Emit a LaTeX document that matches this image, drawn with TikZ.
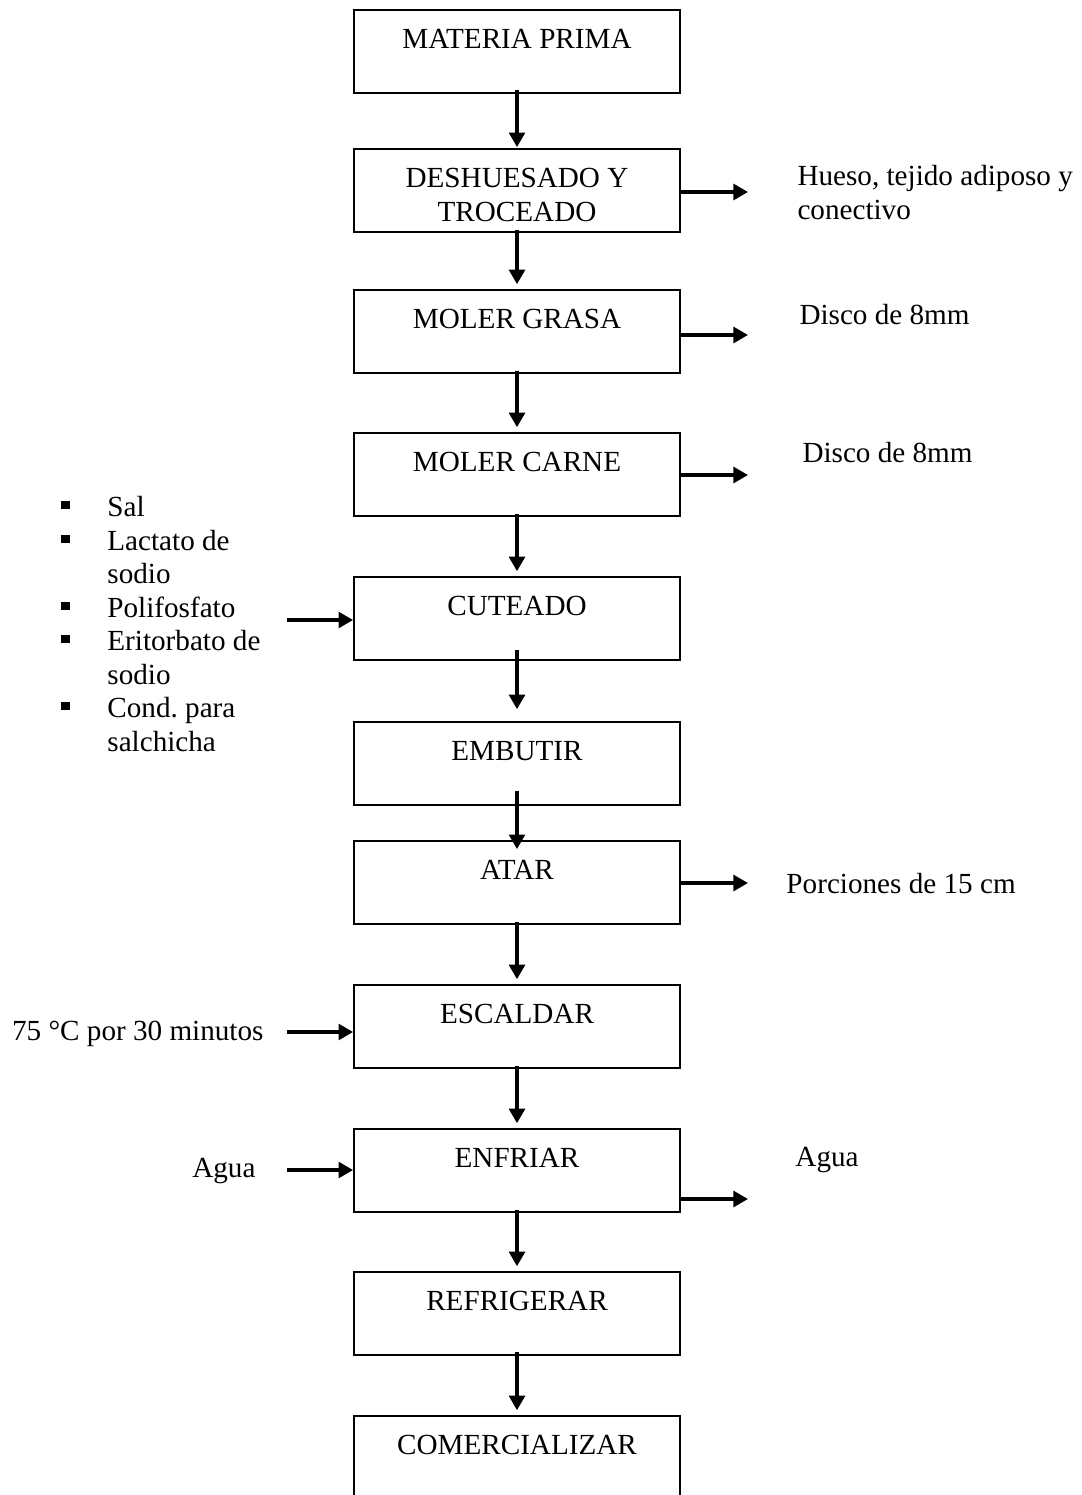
\documentclass[tikz,border=0pt]{standalone}
\usepackage{fontspec}
\setmainfont{Liberation Serif}
\usetikzlibrary{arrows.meta}
\frenchspacing

\begin{document}
\begin{tikzpicture}[
		% one unit is one pixel of the page, y runs downwards
		x=0.4115pt, y=-0.4115pt,
		stepbox/.style={draw, line width=0.7pt, minimum width=134.2pt, minimum height=34.2pt, inner sep=0pt},
		steptext/.style={anchor=north, align=center, inner sep=0pt, yshift=-8.2pt},
		sidetext/.style={anchor=base west, inner sep=0pt},
		flow/.style={-{Triangle[width=6.5pt,length=6pt]}, line width=1.4pt},
		every node/.append style={font=\fontsize{12pt}{13.8pt}\selectfont}
		]
		\useasboundingbox (0,0) rectangle (1081,1495);
		\pgfmathsetmacro{\StepX}{517}
		\pgfmathsetmacro{\OutX}{748}
		\pgfmathsetmacro{\InX}{287}
		% process steps
		\node[stepbox] (mp) at (\StepX,51.5) {};
		\node[steptext] (mptext) at (mp.north) {MATERIA PRIMA};
		\node[stepbox] (desh) at (\StepX,190.5) {};
		\node[steptext] (deshtext) at (desh.north) {DESHUESADO Y\\TROCEADO};
		\node[stepbox] (grasa) at (\StepX,331.5) {};
		\node[steptext] (grasatext) at (grasa.north) {MOLER GRASA};
		\node[stepbox] (carne) at (\StepX,474.5) {};
		\node[steptext] (carnetext) at (carne.north) {MOLER CARNE};
		\node[stepbox] (cut) at (\StepX,618.5) {};
		\node[steptext] (cuttext) at (cut.north) {CUTEADO};
		\node[stepbox] (emb) at (\StepX,763.5) {};
		\node[steptext] (embtext) at (emb.north) {EMBUTIR};
		\node[stepbox] (atar) at (\StepX,882.5) {};
		\node[steptext] (atartext) at (atar.north) {ATAR};
		\node[stepbox] (esc) at (\StepX,1026.5) {};
		\node[steptext] (esctext) at (esc.north) {ESCALDAR};
		\node[stepbox] (enf) at (\StepX,1170.5) {};
		\node[steptext] (enftext) at (enf.north) {ENFRIAR};
		\node[stepbox] (refr) at (\StepX,1313.5) {};
		\node[steptext] (refrtext) at (refr.north) {REFRIGERAR};
		\node[stepbox] (com) at (\StepX,1457.5) {};
		\node[steptext] (comtext) at (com.north) {COMERCIALIZAR};
		% main flow
		\draw[flow] ([yshift=1.6pt]mp.south) -- ([yshift=0.4pt]desh.north);
		\draw[flow] ([yshift=1pt]desh.south) -- ([yshift=2pt]grasa.north);
		\draw[flow] ([yshift=1pt]grasa.south) -- ([yshift=2pt]carne.north);
		\draw[flow] ([yshift=1pt]carne.south) -- ([yshift=2pt]cut.north);
		\draw[flow] ([yshift=4.5pt]cut.south) -- ([yshift=4.9pt]emb.north);
		\draw[flow] ([yshift=6.2pt]emb.south) -- ([yshift=-3.7pt]atar.north);
		\draw[flow] ([yshift=1pt]atar.south) -- ([yshift=2pt]esc.north);
		\draw[flow] ([yshift=1pt]esc.south) -- ([yshift=2pt]enf.north);
		\draw[flow] ([yshift=1pt]enf.south) -- ([yshift=2pt]refr.north);
		\draw[flow] ([yshift=1.6pt]refr.south) -- ([yshift=2pt]com.north);
		% outputs on the right
		\coordinate (deshout) at (\OutX,192);
		\coordinate (grasaout) at (\OutX,335);
		\coordinate (carneout) at (\OutX,475);
		\coordinate (atarout) at (\OutX,883);
		\coordinate (enfout) at (\OutX,1199);
		\draw[flow] (desh.east |- deshout) -- (deshout);
		\draw[flow] (grasa.east |- grasaout) -- (grasaout);
		\draw[flow] (carne.east |- carneout) -- (carneout);
		\draw[flow] (atar.east |- atarout) -- (atarout);
		\draw[flow] (enf.east |- enfout) -- (enfout);
		\node[anchor=north west, align=left, inner sep=0pt] (hueso) at (797,165) {Hueso, tejido adiposo y\\conectivo};
		\node[sidetext] (discograsa) at (799,325) {Disco de 8mm};
		\node[sidetext] (discocarne) at (802,462) {Disco de 8mm};
		\node[sidetext] (porciones) at (786,893) {Porciones de 15 cm};
		\node[sidetext] (aguaout) at (795,1166) {Agua};
		% inputs on the left
		\coordinate (cutin) at (\InX,620);
		\coordinate (escin) at (\InX,1032);
		\coordinate (enfin) at (\InX,1170);
		\draw[flow] (cutin) -- (cutin -| cut.west);
		\draw[flow] (escin) -- (escin -| esc.west);
		\draw[flow] (enfin) -- (enfin -| enf.west);
		\node[anchor=north west, inner sep=0pt] (aditivos) at (61,492.5) {%
			\begin{tabular}{@{}p{18.9pt}@{}l@{}}
				\rule[3pt]{3.3pt}{3.3pt} & Sal\\
				\rule[3pt]{3.3pt}{3.3pt} & Lactato de\\
				& sodio\\
				\rule[3pt]{3.3pt}{3.3pt} & Polifosfato\\
				\rule[3pt]{3.3pt}{3.3pt} & Eritorbato de\\
				& sodio\\
				\rule[3pt]{3.3pt}{3.3pt} & Cond. para\\
				& salchicha
			\end{tabular}};
		\node[anchor=base east, inner sep=0pt] (temp) at (264,1040) {75 °C por 30 minutos};
		\node[anchor=base east, inner sep=0pt] (aguain) at (256,1177) {Agua};
	\end{tikzpicture}
\end{document}
